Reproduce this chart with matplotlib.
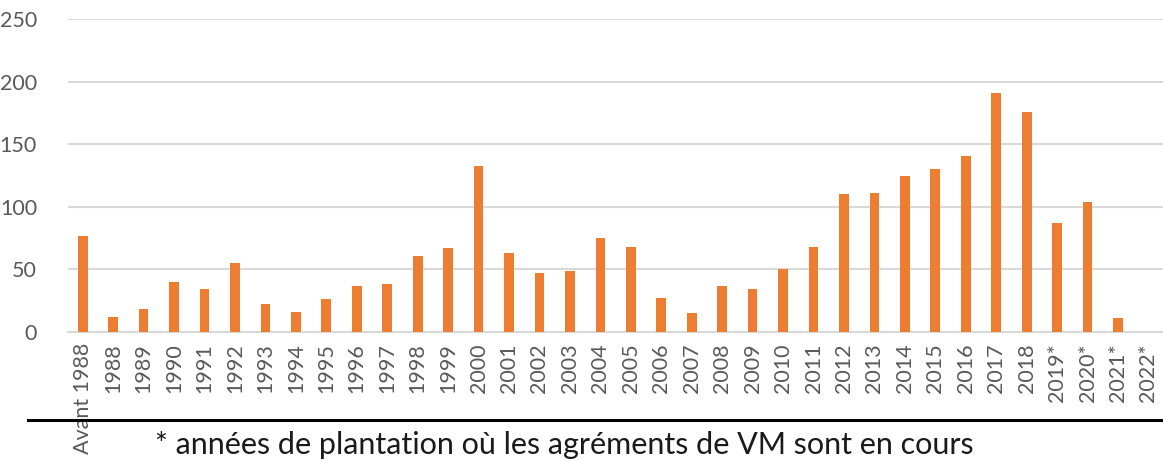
import matplotlib
matplotlib.use("Agg")
import matplotlib.pyplot as plt
import numpy as np

categories = ["Avant 1988"] + [str(y) for y in range(1988, 2019)] + ["2019*", "2020*", "2021*", "2022*"]
values = [77, 12, 18, 40, 34, 55, 22, 16, 26, 37, 38, 61, 67, 133, 63, 47, 49, 75, 68, 27, 15,
          37, 34, 50, 68, 110, 111, 125, 130, 141, 191, 176, 87, 104, 11, 0]
yticks = [0, 50, 100, 150, 200, 250]
footnote = "* années de plantation où les agréments de VM sont en cours"

plt.rcParams['font.family'] = ['Lato', 'DejaVu Sans']

W, H = 1163, 461
fig = plt.figure(figsize=(W / 100, H / 100), dpi=100)
ax = fig.add_axes([67.5 / W, 1 - 332 / H, (1163.7 - 67.5) / W, (332 - 19.3) / H])

x = np.arange(len(categories))
ax.bar(x, values, width=0.32, color="#ED7D31", zorder=3)
ax.set_xlim(-0.5, len(categories) - 0.5)
ax.set_ylim(0, 250)
ax.set_yticks(yticks)
ax.set_xticks(x)
ax.set_xticklabels(categories, rotation=90, va="top")
ax.tick_params(axis="both", length=0, colors="#595959", labelsize=15.5)
ax.tick_params(axis="y", pad=22)
ax.tick_params(axis="x", pad=8)
ax.grid(axis="y", color="#d9d9d9", linewidth=1.5, zorder=0)
for s in ax.spines.values():
    s.set_visible(False)
ax.axhline(0, color="#d9d9d9", linewidth=1.5, zorder=2, clip_on=False)

fig.add_artist(plt.Line2D([28 / W, 1], [1 - 420 / H, 1 - 420 / H], color="black", linewidth=2.2,
                          transform=fig.transFigure))
fig.text(155 / W, 1 - 454 / H, footnote, fontsize=22, color="#1a1a1a",
         va="baseline", ha="left")

fig.savefig("out.png", dpi=100)
